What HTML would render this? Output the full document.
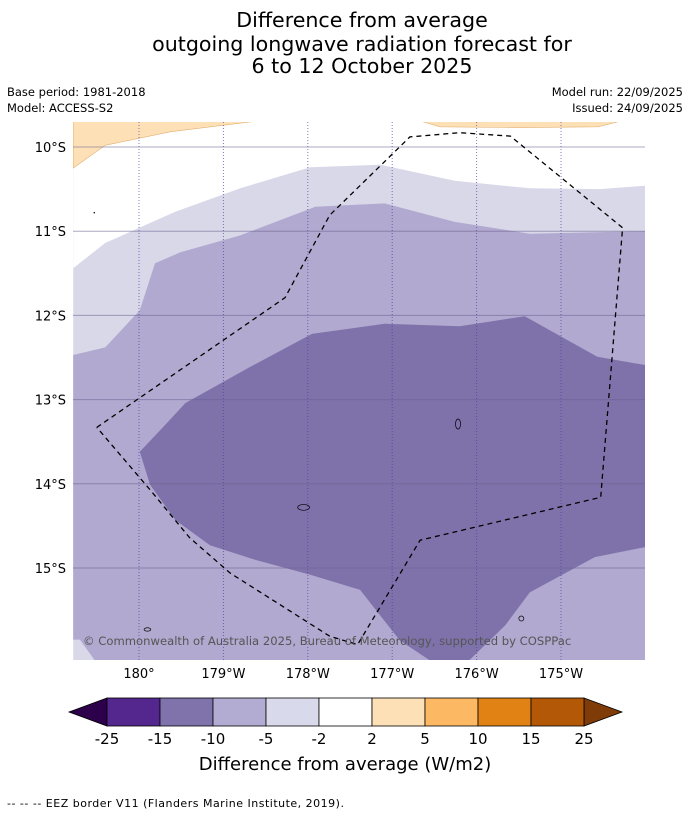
<!DOCTYPE html>
<html><head><meta charset="utf-8"><style>
body{margin:0;background:#fff;width:690px;height:816px;overflow:hidden;font-family:"Liberation Sans","DejaVu Sans",sans-serif}
</style></head><body>
<svg id="svg" width="690" height="816" xmlns="http://www.w3.org/2000/svg" font-family="DejaVu Sans, Liberation Sans, sans-serif">
<text x="362" y="27" text-anchor="middle" font-size="20.6">Difference from average</text>
<text x="362" y="51" text-anchor="middle" font-size="20.6">outgoing longwave radiation forecast for</text>
<text x="362" y="73" text-anchor="middle" font-size="20.6">6 to 12 October 2025</text>
<text x="7" y="96" font-size="11.5">Base period: 1981-2018</text>
<text x="7" y="112" font-size="11.5">Model: ACCESS-S2</text>
<text x="683" y="96" font-size="11.5" text-anchor="end">Model run: 22/09/2025</text>
<text x="683" y="112" font-size="11.5" text-anchor="end">Issued: 24/09/2025</text>
<defs><clipPath id="clip"><rect x="73" y="122" width="572" height="538"/></clipPath></defs>
<g id="map" clip-path="url(#clip)"></g>
<g id="axes"></g>
<text x="83" y="645" font-size="11.6" fill="#555">© Commonwealth of Australia 2025, Bureau of Meteorology, supported by COSPPac</text>
<g id="cbar"></g>
<text x="345" y="770" text-anchor="middle" font-size="18">Difference from average (W/m2)</text>
<text x="7" y="807" font-size="11" letter-spacing="0.5">--  --  -- EEZ border V11 (Flanders Marine Institute, 2019).</text>
</svg>
<script>
const latTicks=[10,11,12,13,14,15];
const latLabels=["10°S","11°S","12°S","13°S","14°S","15°S"];
const lonTicks=[180,181,182,183,184,185];
const lonLabels=["180°","179°W","178°W","177°W","176°W","175°W"];
const cbLevels=["-25","-15","-10","-5","-2","2","5","10","15","25"];
const cbColors=["#54278f","#8073ac","#b2abd2","#d8daeb","#ffffff","#fee0b6","#fdb863","#e08214","#b35806"];
const lightRegion=[[179.22,10.25],[179.22,9.70],[186,9.70],[186,16.2],[179.22,16.2]];
const whiteRegion=[[179.22,11.44],[179.60,11.14],[180.43,10.77],[181.20,10.49],[182.03,10.24],[182.86,10.21],[183.74,10.40],[184.63,10.49],[185.46,10.50],[186,10.46],[186,9.70],[179.22,9.70]];
const orangeLeft=[[179.22,9.70],[179.22,10.25],[179.60,9.98],[180.37,9.82],[181.34,9.70]];
const orangeRight=[[183.36,9.70],[183.57,9.76],[184.51,9.77],[185.44,9.76],[185.68,9.70]];
const midRegion=[[179.22,12.47],[179.60,12.38],[180.01,11.94],[180.19,11.38],[180.49,11.25],[181.20,11.05],[182.09,10.71],[182.91,10.67],[183.74,10.89],[184.63,11.03],[186,11.00],[186,16.2],[179.55,16.2],[179.3,15.85],[179.22,15.85]];
const darkRegion=[[180.01,13.62],[180.31,13.30],[180.55,13.04],[181.32,12.61],[182.05,12.22],[182.91,12.10],[183.80,12.13],[184.57,12.01],[185.43,12.49],[186,12.59],[186,14.75],[185.40,14.87],[184.63,15.29],[184.34,15.68],[183.92,16.09],[183.85,16.2],[183.6,16.2],[183.09,15.86],[182.62,15.26],[182.03,15.08],[181.37,14.90],[180.84,14.73],[180.43,14.43],[180.13,14.01]];
const eez=[[179.50,13.33],[181.73,11.79],[182.26,10.81],[183.21,9.88],[183.80,9.83],[184.40,9.87],[185.73,10.96],[185.47,14.16],[183.33,14.67],[182.59,15.91],[182.26,15.81],[181.08,15.06],[180.60,14.64],[180.13,14.07],[179.50,13.33]];
const islands=[[183.78,13.29,0.03,0.06],[181.95,14.28,0.07,0.035],[184.53,15.6,0.03,0.03],[180.1,15.73,0.04,0.02],[179.47,10.78,0.005,0.005]];
const X=l=>139+(l-180)*84.4, Y=l=>147+(l-10)*84.2;
const NS="http://www.w3.org/2000/svg";
function mk(t,a,p){const e=document.createElementNS(NS,t);for(const k in a)e.setAttribute(k,a[k]);p.appendChild(e);return e;}
const map=document.getElementById('map'),axes=document.getElementById('axes'),cb=document.getElementById('cbar');
const pts=a=>a.map(p=>X(p[0]).toFixed(1)+','+Y(p[1]).toFixed(1)).join(' ');
function poly(arr,fill,name,stroke){const e=mk('polygon',{points:pts(arr),fill:fill,stroke:stroke||'none','stroke-width':0.6},map);

}
poly(lightRegion,'#d8d8e9','region-light');
poly(whiteRegion,'#ffffff','region-neutral');
poly(orangeLeft,'#fee0b6','region-orange-left','#e0b070');
poly(orangeRight,'#fee0b6','region-orange-right','#e0b070');
poly(midRegion,'#b1a9cf','region-mid');
poly(darkRegion,'#7f72aa','region-dark');
latTicks.forEach((t,i)=>{const l=mk('line',{x1:73,x2:645,y1:Y(t),y2:Y(t),stroke:'#6a6090','stroke-opacity':0.55,'stroke-width':1},map);


const tx=mk('text',{x:66,y:Y(t)+5,'text-anchor':'end','font-size':13},axes);tx.textContent=latLabels[i];

});
lonTicks.forEach((t,i)=>{const l=mk('line',{x1:X(t),x2:X(t),y1:122,y2:660,stroke:'#4a40a0','stroke-opacity':0.7,'stroke-width':1,'stroke-dasharray':'1,2'},map);


const tx=mk('text',{x:X(t),y:678,'text-anchor':'middle','font-size':13},axes);tx.textContent=lonLabels[i];

});
islands.forEach(s=>{const e=mk('ellipse',{cx:X(s[0]),cy:Y(s[1]),rx:s[2]*84,ry:s[3]*84,fill:'none',stroke:'#000','stroke-width':0.7},map);

});
const ez=mk('polyline',{points:pts(eez),fill:'none',stroke:'#000','stroke-width':1.3,'stroke-dasharray':'5,4'},map);


const c0=107,cw=53,cy=698,ch=28;
const n=cbColors.length;
const lt=mk('polygon',{points:`${c0},${cy} ${c0-38},${cy+ch/2} ${c0},${cy+ch}`,fill:'#2d004b',stroke:'#000','stroke-width':0.8},cb);


const rt=mk('polygon',{points:`${c0+n*cw},${cy} ${c0+n*cw+38},${cy+ch/2} ${c0+n*cw},${cy+ch}`,fill:'#7f3b08',stroke:'#000','stroke-width':0.8},cb);


cbColors.forEach((c,i)=>{const r=mk('rect',{x:c0+i*cw,y:cy,width:cw,height:ch,fill:c,stroke:'#000','stroke-width':0.8},cb);

});
cbLevels.forEach((v,i)=>{const t=mk('text',{x:c0+i*cw,y:744,'text-anchor':'middle','font-size':15},cb);t.textContent=v;

});
</script>
</body></html>
